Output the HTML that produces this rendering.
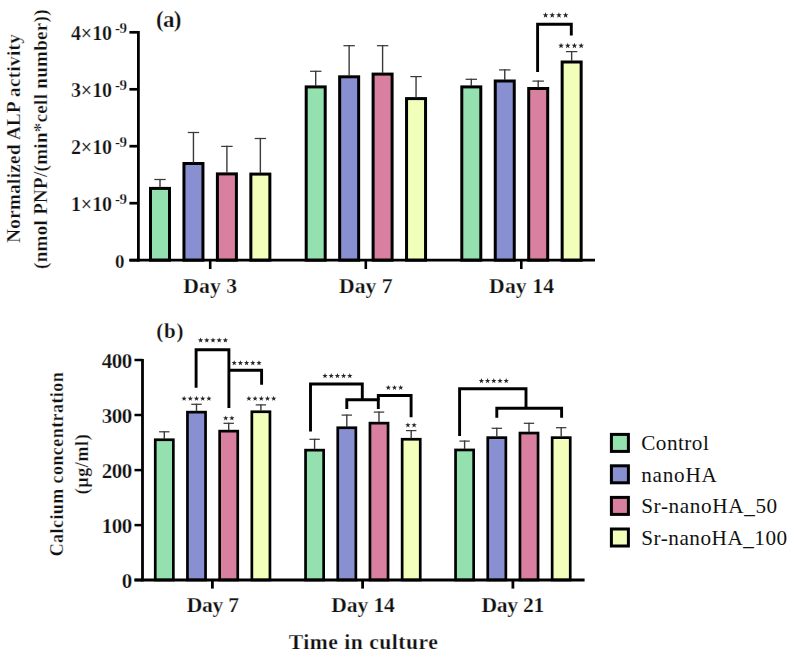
<!DOCTYPE html>
<html><head><meta charset="utf-8"><style>
html,body{margin:0;padding:0;background:#fff;}
body{width:792px;height:655px;overflow:hidden;}
svg{display:block;}
text{font-family:"Liberation Serif",serif;fill:#111;}
text[font-weight=bold]{stroke:#fff;stroke-width:0.25px;}
</style></head><body>
<svg width="792" height="655" viewBox="0 0 792 655">
<rect width="792" height="655" fill="#fff"/>
<rect x="150.50" y="188.40" width="19.00" height="71.80" fill="#94e0ae" stroke="#000" stroke-width="3.0"/>
<line x1="160.00" y1="187.40" x2="160.00" y2="178.90" stroke="#3a3a3a" stroke-width="1.4"/>
<line x1="154.30" y1="179.50" x2="165.70" y2="179.50" stroke="#3a3a3a" stroke-width="1.25"/>
<rect x="183.95" y="163.50" width="19.00" height="96.70" fill="#8990d1" stroke="#000" stroke-width="3.0"/>
<line x1="193.45" y1="162.50" x2="193.45" y2="131.90" stroke="#3a3a3a" stroke-width="1.4"/>
<line x1="187.75" y1="132.50" x2="199.15" y2="132.50" stroke="#3a3a3a" stroke-width="1.25"/>
<rect x="217.40" y="173.90" width="19.00" height="86.30" fill="#d97fa0" stroke="#000" stroke-width="3.0"/>
<line x1="226.90" y1="172.90" x2="226.90" y2="145.80" stroke="#3a3a3a" stroke-width="1.4"/>
<line x1="221.20" y1="146.40" x2="232.60" y2="146.40" stroke="#3a3a3a" stroke-width="1.25"/>
<rect x="250.85" y="174.10" width="19.00" height="86.10" fill="#f2ffba" stroke="#000" stroke-width="3.0"/>
<line x1="260.35" y1="173.10" x2="260.35" y2="137.90" stroke="#3a3a3a" stroke-width="1.4"/>
<line x1="254.65" y1="138.50" x2="266.05" y2="138.50" stroke="#3a3a3a" stroke-width="1.25"/>
<rect x="306.20" y="86.90" width="19.00" height="173.30" fill="#94e0ae" stroke="#000" stroke-width="3.0"/>
<line x1="315.70" y1="85.90" x2="315.70" y2="70.70" stroke="#3a3a3a" stroke-width="1.4"/>
<line x1="310.00" y1="71.30" x2="321.40" y2="71.30" stroke="#3a3a3a" stroke-width="1.25"/>
<rect x="339.65" y="76.80" width="19.00" height="183.40" fill="#8990d1" stroke="#000" stroke-width="3.0"/>
<line x1="349.15" y1="75.80" x2="349.15" y2="45.10" stroke="#3a3a3a" stroke-width="1.4"/>
<line x1="343.45" y1="45.70" x2="354.85" y2="45.70" stroke="#3a3a3a" stroke-width="1.25"/>
<rect x="373.10" y="74.10" width="19.00" height="186.10" fill="#d97fa0" stroke="#000" stroke-width="3.0"/>
<line x1="382.60" y1="73.10" x2="382.60" y2="45.10" stroke="#3a3a3a" stroke-width="1.4"/>
<line x1="376.90" y1="45.70" x2="388.30" y2="45.70" stroke="#3a3a3a" stroke-width="1.25"/>
<rect x="406.55" y="98.60" width="19.00" height="161.60" fill="#f2ffba" stroke="#000" stroke-width="3.0"/>
<line x1="416.05" y1="97.60" x2="416.05" y2="76.00" stroke="#3a3a3a" stroke-width="1.4"/>
<line x1="410.35" y1="76.60" x2="421.75" y2="76.60" stroke="#3a3a3a" stroke-width="1.25"/>
<rect x="461.80" y="86.90" width="19.00" height="173.30" fill="#94e0ae" stroke="#000" stroke-width="3.0"/>
<line x1="471.30" y1="85.90" x2="471.30" y2="78.70" stroke="#3a3a3a" stroke-width="1.4"/>
<line x1="465.60" y1="79.30" x2="477.00" y2="79.30" stroke="#3a3a3a" stroke-width="1.25"/>
<rect x="495.25" y="81.00" width="19.00" height="179.20" fill="#8990d1" stroke="#000" stroke-width="3.0"/>
<line x1="504.75" y1="80.00" x2="504.75" y2="69.30" stroke="#3a3a3a" stroke-width="1.4"/>
<line x1="499.05" y1="69.90" x2="510.45" y2="69.90" stroke="#3a3a3a" stroke-width="1.25"/>
<rect x="528.70" y="88.50" width="19.00" height="171.70" fill="#d97fa0" stroke="#000" stroke-width="3.0"/>
<line x1="538.20" y1="87.50" x2="538.20" y2="80.50" stroke="#3a3a3a" stroke-width="1.4"/>
<line x1="532.50" y1="81.10" x2="543.90" y2="81.10" stroke="#3a3a3a" stroke-width="1.25"/>
<rect x="562.15" y="62.00" width="19.00" height="198.20" fill="#f2ffba" stroke="#000" stroke-width="3.0"/>
<line x1="571.65" y1="61.00" x2="571.65" y2="51.00" stroke="#3a3a3a" stroke-width="1.4"/>
<line x1="565.95" y1="51.60" x2="577.35" y2="51.60" stroke="#3a3a3a" stroke-width="1.25"/>
<line x1="138.40" y1="31.00" x2="138.40" y2="261.60" stroke="#000" stroke-width="2.8" stroke-linecap="butt"/>
<line x1="129.40" y1="32.30" x2="138.40" y2="32.30" stroke="#000" stroke-width="2.7" stroke-linecap="butt"/>
<line x1="129.40" y1="89.30" x2="138.40" y2="89.30" stroke="#000" stroke-width="2.7" stroke-linecap="butt"/>
<line x1="129.40" y1="146.20" x2="138.40" y2="146.20" stroke="#000" stroke-width="2.7" stroke-linecap="butt"/>
<line x1="129.40" y1="203.20" x2="138.40" y2="203.20" stroke="#000" stroke-width="2.7" stroke-linecap="butt"/>
<line x1="129.40" y1="260.20" x2="138.40" y2="260.20" stroke="#000" stroke-width="2.7" stroke-linecap="butt"/>
<line x1="129.40" y1="260.20" x2="595.00" y2="260.20" stroke="#000" stroke-width="2.8" stroke-linecap="butt"/>
<line x1="210.20" y1="260.20" x2="210.20" y2="269.00" stroke="#000" stroke-width="2.6" stroke-linecap="butt"/>
<line x1="365.80" y1="260.20" x2="365.80" y2="269.00" stroke="#000" stroke-width="2.6" stroke-linecap="butt"/>
<line x1="521.30" y1="260.20" x2="521.30" y2="269.00" stroke="#000" stroke-width="2.6" stroke-linecap="butt"/>
<text x="71.0" y="40.099999999999994" font-size="20" font-weight="bold" text-anchor="start" textLength="41.0" lengthAdjust="spacing">4×10</text>
<text x="115.1" y="33.099999999999994" font-size="15" font-weight="bold" text-anchor="start" textLength="12.0" lengthAdjust="spacing">-9</text>
<text x="71.0" y="97.1" font-size="20" font-weight="bold" text-anchor="start" textLength="41.0" lengthAdjust="spacing">3×10</text>
<text x="115.1" y="90.1" font-size="15" font-weight="bold" text-anchor="start" textLength="12.0" lengthAdjust="spacing">-9</text>
<text x="71.0" y="154.0" font-size="20" font-weight="bold" text-anchor="start" textLength="41.0" lengthAdjust="spacing">2×10</text>
<text x="115.1" y="147.0" font-size="15" font-weight="bold" text-anchor="start" textLength="12.0" lengthAdjust="spacing">-9</text>
<text x="71.0" y="211.0" font-size="20" font-weight="bold" text-anchor="start" textLength="41.0" lengthAdjust="spacing">1×10</text>
<text x="115.1" y="204.0" font-size="15" font-weight="bold" text-anchor="start" textLength="12.0" lengthAdjust="spacing">-9</text>
<text x="124.6" y="267.7" font-size="19" font-weight="bold" text-anchor="end">0</text>
<text x="210.2" y="293.3" font-size="21.7" font-weight="bold" text-anchor="middle" textLength="54" lengthAdjust="spacing">Day 3</text>
<text x="365.8" y="293.3" font-size="21.7" font-weight="bold" text-anchor="middle" textLength="53.6" lengthAdjust="spacing">Day 7</text>
<text x="521.6" y="293.3" font-size="21.7" font-weight="bold" text-anchor="middle" textLength="65" lengthAdjust="spacing">Day 14</text>
<text x="156.0" y="26.8" font-size="23" font-weight="bold" text-anchor="start" textLength="25.4" lengthAdjust="spacing">(a)</text>
<text transform="translate(19.8,138.5) rotate(-90)" font-size="19" font-weight="bold" text-anchor="middle" textLength="208.5" lengthAdjust="spacing">Normalized ALP activity</text>
<text transform="translate(46.5,139.2) rotate(-90)" font-size="19" font-weight="bold" text-anchor="middle" textLength="259.5" lengthAdjust="spacing">(nmol PNP/(min*cell number))</text>
<polyline points="537.60,72.10 537.60,24.20 571.30,24.20 571.30,35.60" fill="none" stroke="#000" stroke-width="2.9" stroke-linejoin="miter"/>
<path d="M545.55,12.20 L546.28,14.19 L548.40,14.27 L546.74,15.59 L547.31,17.63 L545.55,16.45 L543.79,17.63 L544.36,15.59 L542.70,14.27 L544.82,14.19Z M552.25,12.20 L552.98,14.19 L555.10,14.27 L553.44,15.59 L554.01,17.63 L552.25,16.45 L550.49,17.63 L551.06,15.59 L549.40,14.27 L551.52,14.19Z M558.95,12.20 L559.68,14.19 L561.80,14.27 L560.14,15.59 L560.71,17.63 L558.95,16.45 L557.19,17.63 L557.76,15.59 L556.10,14.27 L558.22,14.19Z M565.65,12.20 L566.38,14.19 L568.50,14.27 L566.84,15.59 L567.41,17.63 L565.65,16.45 L563.89,17.63 L564.46,15.59 L562.80,14.27 L564.92,14.19Z" fill="#262626"/>
<path d="M561.05,42.70 L561.78,44.69 L563.90,44.77 L562.24,46.09 L562.81,48.13 L561.05,46.95 L559.29,48.13 L559.86,46.09 L558.20,44.77 L560.32,44.69Z M567.75,42.70 L568.48,44.69 L570.60,44.77 L568.94,46.09 L569.51,48.13 L567.75,46.95 L565.99,48.13 L566.56,46.09 L564.90,44.77 L567.02,44.69Z M574.45,42.70 L575.18,44.69 L577.30,44.77 L575.64,46.09 L576.21,48.13 L574.45,46.95 L572.69,48.13 L573.26,46.09 L571.60,44.77 L573.72,44.69Z M581.15,42.70 L581.88,44.69 L584.00,44.77 L582.34,46.09 L582.91,48.13 L581.15,46.95 L579.39,48.13 L579.96,46.09 L578.30,44.77 L580.42,44.69Z" fill="#262626"/>
<rect x="155.25" y="439.75" width="18.10" height="140.25" fill="#94e0ae" stroke="#000" stroke-width="2.7"/>
<line x1="164.30" y1="438.90" x2="164.30" y2="431.20" stroke="#3a3a3a" stroke-width="1.4"/>
<line x1="159.10" y1="431.80" x2="169.50" y2="431.80" stroke="#3a3a3a" stroke-width="1.25"/>
<rect x="187.45" y="412.15" width="18.10" height="167.85" fill="#8990d1" stroke="#000" stroke-width="2.7"/>
<line x1="196.50" y1="411.30" x2="196.50" y2="403.70" stroke="#3a3a3a" stroke-width="1.4"/>
<line x1="191.30" y1="404.30" x2="201.70" y2="404.30" stroke="#3a3a3a" stroke-width="1.25"/>
<rect x="219.65" y="431.15" width="18.10" height="148.85" fill="#d97fa0" stroke="#000" stroke-width="2.7"/>
<line x1="228.70" y1="430.30" x2="228.70" y2="422.70" stroke="#3a3a3a" stroke-width="1.4"/>
<line x1="223.50" y1="423.30" x2="233.90" y2="423.30" stroke="#3a3a3a" stroke-width="1.25"/>
<rect x="251.85" y="411.75" width="18.10" height="168.25" fill="#f2ffba" stroke="#000" stroke-width="2.7"/>
<line x1="260.90" y1="410.90" x2="260.90" y2="404.30" stroke="#3a3a3a" stroke-width="1.4"/>
<line x1="255.70" y1="404.90" x2="266.10" y2="404.90" stroke="#3a3a3a" stroke-width="1.25"/>
<rect x="305.55" y="450.15" width="18.10" height="129.85" fill="#94e0ae" stroke="#000" stroke-width="2.7"/>
<line x1="314.60" y1="449.30" x2="314.60" y2="438.70" stroke="#3a3a3a" stroke-width="1.4"/>
<line x1="309.40" y1="439.30" x2="319.80" y2="439.30" stroke="#3a3a3a" stroke-width="1.25"/>
<rect x="337.75" y="427.75" width="18.10" height="152.25" fill="#8990d1" stroke="#000" stroke-width="2.7"/>
<line x1="346.80" y1="426.90" x2="346.80" y2="414.50" stroke="#3a3a3a" stroke-width="1.4"/>
<line x1="341.60" y1="415.10" x2="352.00" y2="415.10" stroke="#3a3a3a" stroke-width="1.25"/>
<rect x="369.95" y="423.15" width="18.10" height="156.85" fill="#d97fa0" stroke="#000" stroke-width="2.7"/>
<line x1="379.00" y1="422.30" x2="379.00" y2="411.50" stroke="#3a3a3a" stroke-width="1.4"/>
<line x1="373.80" y1="412.10" x2="384.20" y2="412.10" stroke="#3a3a3a" stroke-width="1.25"/>
<rect x="402.15" y="439.25" width="18.10" height="140.75" fill="#f2ffba" stroke="#000" stroke-width="2.7"/>
<line x1="411.20" y1="438.40" x2="411.20" y2="430.00" stroke="#3a3a3a" stroke-width="1.4"/>
<line x1="406.00" y1="430.60" x2="416.40" y2="430.60" stroke="#3a3a3a" stroke-width="1.25"/>
<rect x="455.55" y="449.95" width="18.10" height="130.05" fill="#94e0ae" stroke="#000" stroke-width="2.7"/>
<line x1="464.60" y1="449.10" x2="464.60" y2="440.50" stroke="#3a3a3a" stroke-width="1.4"/>
<line x1="459.40" y1="441.10" x2="469.80" y2="441.10" stroke="#3a3a3a" stroke-width="1.25"/>
<rect x="487.75" y="437.65" width="18.10" height="142.35" fill="#8990d1" stroke="#000" stroke-width="2.7"/>
<line x1="496.80" y1="436.80" x2="496.80" y2="427.70" stroke="#3a3a3a" stroke-width="1.4"/>
<line x1="491.60" y1="428.30" x2="502.00" y2="428.30" stroke="#3a3a3a" stroke-width="1.25"/>
<rect x="519.95" y="433.05" width="18.10" height="146.95" fill="#d97fa0" stroke="#000" stroke-width="2.7"/>
<line x1="529.00" y1="432.20" x2="529.00" y2="422.70" stroke="#3a3a3a" stroke-width="1.4"/>
<line x1="523.80" y1="423.30" x2="534.20" y2="423.30" stroke="#3a3a3a" stroke-width="1.25"/>
<rect x="552.15" y="437.65" width="18.10" height="142.35" fill="#f2ffba" stroke="#000" stroke-width="2.7"/>
<line x1="561.20" y1="436.80" x2="561.20" y2="427.10" stroke="#3a3a3a" stroke-width="1.4"/>
<line x1="556.00" y1="427.70" x2="566.40" y2="427.70" stroke="#3a3a3a" stroke-width="1.25"/>
<line x1="142.50" y1="359.00" x2="142.50" y2="581.40" stroke="#000" stroke-width="2.8" stroke-linecap="butt"/>
<line x1="134.50" y1="360.00" x2="142.50" y2="360.00" stroke="#000" stroke-width="2.5" stroke-linecap="butt"/>
<line x1="134.50" y1="415.00" x2="142.50" y2="415.00" stroke="#000" stroke-width="2.5" stroke-linecap="butt"/>
<line x1="134.50" y1="470.10" x2="142.50" y2="470.10" stroke="#000" stroke-width="2.5" stroke-linecap="butt"/>
<line x1="134.50" y1="525.10" x2="142.50" y2="525.10" stroke="#000" stroke-width="2.5" stroke-linecap="butt"/>
<line x1="134.50" y1="580.00" x2="142.50" y2="580.00" stroke="#000" stroke-width="2.5" stroke-linecap="butt"/>
<line x1="134.50" y1="580.00" x2="584.60" y2="580.00" stroke="#000" stroke-width="2.8" stroke-linecap="butt"/>
<line x1="212.40" y1="580.00" x2="212.40" y2="588.60" stroke="#000" stroke-width="2.8" stroke-linecap="butt"/>
<line x1="362.60" y1="580.00" x2="362.60" y2="588.60" stroke="#000" stroke-width="2.8" stroke-linecap="butt"/>
<line x1="512.90" y1="580.00" x2="512.90" y2="588.60" stroke="#000" stroke-width="2.8" stroke-linecap="butt"/>
<text x="132.2" y="367.8" font-size="21" font-weight="bold" text-anchor="end" textLength="30.5" lengthAdjust="spacing">400</text>
<text x="132.2" y="422.8" font-size="21" font-weight="bold" text-anchor="end" textLength="30.5" lengthAdjust="spacing">300</text>
<text x="132.2" y="477.90000000000003" font-size="21" font-weight="bold" text-anchor="end" textLength="30.5" lengthAdjust="spacing">200</text>
<text x="132.2" y="532.9" font-size="21" font-weight="bold" text-anchor="end" textLength="30.5" lengthAdjust="spacing">100</text>
<text x="132.2" y="587.8" font-size="21" font-weight="bold" text-anchor="end">0</text>
<text x="212.9" y="611.8" font-size="21.6" font-weight="bold" text-anchor="middle" textLength="52.2" lengthAdjust="spacing">Day 7</text>
<text x="363.1" y="612.0" font-size="21.6" font-weight="bold" text-anchor="middle" textLength="63.6" lengthAdjust="spacing">Day 14</text>
<text x="512.8" y="611.8" font-size="21.6" font-weight="bold" text-anchor="middle" textLength="62.8" lengthAdjust="spacing">Day 21</text>
<text x="363.3" y="649.4" font-size="21.6" font-weight="bold" text-anchor="middle" textLength="149" lengthAdjust="spacing">Time in culture</text>
<text x="156.3" y="338.4" font-size="21" font-weight="bold" text-anchor="start" textLength="27.2" lengthAdjust="spacing">(b)</text>
<text transform="translate(62.6,464.3) rotate(-90)" font-size="18" font-weight="bold" text-anchor="middle" textLength="184" lengthAdjust="spacing">Calcium concentration</text>
<text transform="translate(87.8,464.3) rotate(-90)" font-size="18" font-weight="bold" text-anchor="middle" textLength="60" lengthAdjust="spacing">(µg/ml)</text>
<polyline points="196.10,387.80 196.10,349.70 228.90,349.70 228.90,407.90" fill="none" stroke="#000" stroke-width="2.9" stroke-linejoin="miter"/>
<polyline points="228.90,370.30 261.60,370.30 261.60,384.70" fill="none" stroke="#000" stroke-width="2.9" stroke-linejoin="miter"/>
<path d="M200.60,337.50 L201.28,339.37 L203.26,339.43 L201.69,340.66 L202.25,342.57 L200.60,341.45 L198.95,342.57 L199.51,340.66 L197.94,339.43 L199.92,339.37Z M206.80,337.50 L207.48,339.37 L209.46,339.43 L207.89,340.66 L208.45,342.57 L206.80,341.45 L205.15,342.57 L205.71,340.66 L204.14,339.43 L206.12,339.37Z M213.00,337.50 L213.68,339.37 L215.66,339.43 L214.09,340.66 L214.65,342.57 L213.00,341.45 L211.35,342.57 L211.91,340.66 L210.34,339.43 L212.32,339.37Z M219.20,337.50 L219.88,339.37 L221.86,339.43 L220.29,340.66 L220.85,342.57 L219.20,341.45 L217.55,342.57 L218.11,340.66 L216.54,339.43 L218.52,339.37Z M225.40,337.50 L226.08,339.37 L228.06,339.43 L226.49,340.66 L227.05,342.57 L225.40,341.45 L223.75,342.57 L224.31,340.66 L222.74,339.43 L224.72,339.37Z" fill="#262626"/>
<path d="M234.20,360.20 L234.88,362.07 L236.86,362.13 L235.29,363.36 L235.85,365.27 L234.20,364.15 L232.55,365.27 L233.11,363.36 L231.54,362.13 L233.52,362.07Z M240.40,360.20 L241.08,362.07 L243.06,362.13 L241.49,363.36 L242.05,365.27 L240.40,364.15 L238.75,365.27 L239.31,363.36 L237.74,362.13 L239.72,362.07Z M246.60,360.20 L247.28,362.07 L249.26,362.13 L247.69,363.36 L248.25,365.27 L246.60,364.15 L244.95,365.27 L245.51,363.36 L243.94,362.13 L245.92,362.07Z M252.80,360.20 L253.48,362.07 L255.46,362.13 L253.89,363.36 L254.45,365.27 L252.80,364.15 L251.15,365.27 L251.71,363.36 L250.14,362.13 L252.12,362.07Z M259.00,360.20 L259.68,362.07 L261.66,362.13 L260.09,363.36 L260.65,365.27 L259.00,364.15 L257.35,365.27 L257.91,363.36 L256.34,362.13 L258.32,362.07Z" fill="#262626"/>
<path d="M184.10,395.80 L184.78,397.67 L186.76,397.73 L185.19,398.96 L185.75,400.87 L184.10,399.75 L182.45,400.87 L183.01,398.96 L181.44,397.73 L183.42,397.67Z M190.30,395.80 L190.98,397.67 L192.96,397.73 L191.39,398.96 L191.95,400.87 L190.30,399.75 L188.65,400.87 L189.21,398.96 L187.64,397.73 L189.62,397.67Z M196.50,395.80 L197.18,397.67 L199.16,397.73 L197.59,398.96 L198.15,400.87 L196.50,399.75 L194.85,400.87 L195.41,398.96 L193.84,397.73 L195.82,397.67Z M202.70,395.80 L203.38,397.67 L205.36,397.73 L203.79,398.96 L204.35,400.87 L202.70,399.75 L201.05,400.87 L201.61,398.96 L200.04,397.73 L202.02,397.67Z M208.90,395.80 L209.58,397.67 L211.56,397.73 L209.99,398.96 L210.55,400.87 L208.90,399.75 L207.25,400.87 L207.81,398.96 L206.24,397.73 L208.22,397.67Z" fill="#262626"/>
<path d="M225.70,415.40 L226.38,417.27 L228.36,417.33 L226.79,418.56 L227.35,420.47 L225.70,419.35 L224.05,420.47 L224.61,418.56 L223.04,417.33 L225.02,417.27Z M231.90,415.40 L232.58,417.27 L234.56,417.33 L232.99,418.56 L233.55,420.47 L231.90,419.35 L230.25,420.47 L230.81,418.56 L229.24,417.33 L231.22,417.27Z" fill="#262626"/>
<path d="M248.90,395.80 L249.58,397.67 L251.56,397.73 L249.99,398.96 L250.55,400.87 L248.90,399.75 L247.25,400.87 L247.81,398.96 L246.24,397.73 L248.22,397.67Z M255.10,395.80 L255.78,397.67 L257.76,397.73 L256.19,398.96 L256.75,400.87 L255.10,399.75 L253.45,400.87 L254.01,398.96 L252.44,397.73 L254.42,397.67Z M261.30,395.80 L261.98,397.67 L263.96,397.73 L262.39,398.96 L262.95,400.87 L261.30,399.75 L259.65,400.87 L260.21,398.96 L258.64,397.73 L260.62,397.67Z M267.50,395.80 L268.18,397.67 L270.16,397.73 L268.59,398.96 L269.15,400.87 L267.50,399.75 L265.85,400.87 L266.41,398.96 L264.84,397.73 L266.82,397.67Z M273.70,395.80 L274.38,397.67 L276.36,397.73 L274.79,398.96 L275.35,400.87 L273.70,399.75 L272.05,400.87 L272.61,398.96 L271.04,397.73 L273.02,397.67Z" fill="#262626"/>
<polyline points="310.50,431.40 310.50,384.00 362.30,384.00 362.30,399.70" fill="none" stroke="#000" stroke-width="2.9" stroke-linejoin="miter"/>
<polyline points="346.80,408.90 346.80,399.70 378.30,399.70 378.30,408.90" fill="none" stroke="#000" stroke-width="2.9" stroke-linejoin="miter"/>
<polyline points="378.30,399.70 378.30,395.50 411.10,395.50 411.10,417.30" fill="none" stroke="#000" stroke-width="2.9" stroke-linejoin="miter"/>
<path d="M325.00,373.10 L325.68,374.97 L327.66,375.03 L326.09,376.26 L326.65,378.17 L325.00,377.05 L323.35,378.17 L323.91,376.26 L322.34,375.03 L324.32,374.97Z M331.20,373.10 L331.88,374.97 L333.86,375.03 L332.29,376.26 L332.85,378.17 L331.20,377.05 L329.55,378.17 L330.11,376.26 L328.54,375.03 L330.52,374.97Z M337.40,373.10 L338.08,374.97 L340.06,375.03 L338.49,376.26 L339.05,378.17 L337.40,377.05 L335.75,378.17 L336.31,376.26 L334.74,375.03 L336.72,374.97Z M343.60,373.10 L344.28,374.97 L346.26,375.03 L344.69,376.26 L345.25,378.17 L343.60,377.05 L341.95,378.17 L342.51,376.26 L340.94,375.03 L342.92,374.97Z M349.80,373.10 L350.48,374.97 L352.46,375.03 L350.89,376.26 L351.45,378.17 L349.80,377.05 L348.15,378.17 L348.71,376.26 L347.14,375.03 L349.12,374.97Z" fill="#262626"/>
<path d="M388.30,384.90 L388.98,386.77 L390.96,386.83 L389.39,388.06 L389.95,389.97 L388.30,388.85 L386.65,389.97 L387.21,388.06 L385.64,386.83 L387.62,386.77Z M394.50,384.90 L395.18,386.77 L397.16,386.83 L395.59,388.06 L396.15,389.97 L394.50,388.85 L392.85,389.97 L393.41,388.06 L391.84,386.83 L393.82,386.77Z M400.70,384.90 L401.38,386.77 L403.36,386.83 L401.79,388.06 L402.35,389.97 L400.70,388.85 L399.05,389.97 L399.61,388.06 L398.04,386.83 L400.02,386.77Z" fill="#262626"/>
<path d="M407.90,422.40 L408.58,424.27 L410.56,424.33 L408.99,425.56 L409.55,427.47 L407.90,426.35 L406.25,427.47 L406.81,425.56 L405.24,424.33 L407.22,424.27Z M414.10,422.40 L414.78,424.27 L416.76,424.33 L415.19,425.56 L415.75,427.47 L414.10,426.35 L412.45,427.47 L413.01,425.56 L411.44,424.33 L413.42,424.27Z" fill="#262626"/>
<polyline points="459.60,435.90 459.60,388.70 526.00,388.70 526.00,408.30" fill="none" stroke="#000" stroke-width="2.9" stroke-linejoin="miter"/>
<polyline points="496.80,417.70 496.80,408.30 561.60,408.30 561.60,417.70" fill="none" stroke="#000" stroke-width="2.9" stroke-linejoin="miter"/>
<path d="M481.40,378.10 L482.08,379.97 L484.06,380.03 L482.49,381.26 L483.05,383.17 L481.40,382.05 L479.75,383.17 L480.31,381.26 L478.74,380.03 L480.72,379.97Z M487.60,378.10 L488.28,379.97 L490.26,380.03 L488.69,381.26 L489.25,383.17 L487.60,382.05 L485.95,383.17 L486.51,381.26 L484.94,380.03 L486.92,379.97Z M493.80,378.10 L494.48,379.97 L496.46,380.03 L494.89,381.26 L495.45,383.17 L493.80,382.05 L492.15,383.17 L492.71,381.26 L491.14,380.03 L493.12,379.97Z M500.00,378.10 L500.68,379.97 L502.66,380.03 L501.09,381.26 L501.65,383.17 L500.00,382.05 L498.35,383.17 L498.91,381.26 L497.34,380.03 L499.32,379.97Z M506.20,378.10 L506.88,379.97 L508.86,380.03 L507.29,381.26 L507.85,383.17 L506.20,382.05 L504.55,383.17 L505.11,381.26 L503.54,380.03 L505.52,379.97Z" fill="#262626"/>
<rect x="611.40" y="434.40" width="17.00" height="17.00" fill="#94e0ae" stroke="#000" stroke-width="3"/>
<rect x="611.40" y="465.80" width="17.00" height="17.00" fill="#8990d1" stroke="#000" stroke-width="3"/>
<rect x="611.40" y="497.40" width="17.00" height="17.00" fill="#d97fa0" stroke="#000" stroke-width="3"/>
<rect x="611.40" y="529.00" width="17.00" height="17.00" fill="#f2ffba" stroke="#000" stroke-width="3"/>
<text x="641.2" y="450.2" font-size="21.2" font-weight="normal" text-anchor="start" textLength="67.6" lengthAdjust="spacing">Control</text>
<text x="641.2" y="481.6" font-size="21.2" font-weight="normal" text-anchor="start" textLength="75.6" lengthAdjust="spacing">nanoHA</text>
<text x="641.2" y="513.1999999999999" font-size="21.2" font-weight="normal" text-anchor="start" textLength="136" lengthAdjust="spacing">Sr-nanoHA_50</text>
<text x="641.2" y="544.8" font-size="21.2" font-weight="normal" text-anchor="start" textLength="146" lengthAdjust="spacing">Sr-nanoHA_100</text>
</svg>
</body></html>
